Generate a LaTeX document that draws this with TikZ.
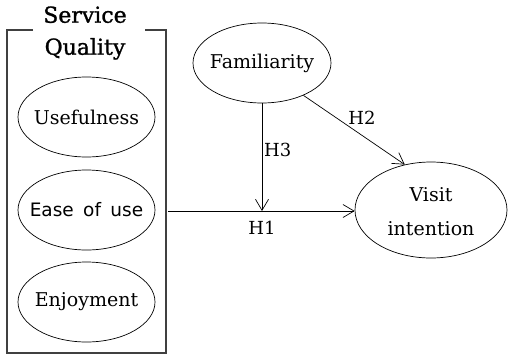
\documentclass[tikz,border=0pt]{standalone}
\usepackage{fontspec}
\setmainfont{DejaVu Serif}
\newfontfamily\easefont{DejaVu Sans}[WordSpace=1.6]
\newfontfamily\titlefont{DejaVu Serif}[FakeBold=1.2]
\usetikzlibrary{arrows.meta,shapes.geometric}
\begin{document}
\begin{tikzpicture}[x=1pt,y=-1pt,
  construct/.style={draw,ellipse,line width=0.7pt,inner sep=0pt,minimum width=137pt,minimum height=80pt},
  ctext/.style={inner sep=0pt,align=center,font=\fontsize{19}{34}\selectfont},
  path/.style={line width=0.7pt,-{Straight Barb[length=11pt,width=13pt,line width=0.7pt]}},
  hlabel/.style={font=\fontsize{18}{20}\selectfont,inner sep=0pt}]
\useasboundingbox (0,0) rectangle (508,362);
% group frame with a gap for the title
\draw[line width=1.1pt,draw=black!75] (33,30) -- (7,30) -- (7,353) -- (166,353) -- (166,30) -- (145,30);
\node[font=\titlefont\fontsize{22}{32}\selectfont,align=center,inner sep=0pt] (title) at (85,33) {Service\\Quality};
% constructs: fixed-size ellipses with their names set inside
\node[construct] (use) at (86.5,117) {};
\node[ctext] (usetext) at (use) {Usefulness};
\node[construct] (ease) at (86.5,210) {};
\node[ctext,font=\easefont\fontsize{18.5}{20}\selectfont] (easetext) at (ease) {Ease of use};
\node[construct] (enj) at (86.5,302) {};
\node[ctext] (enjtext) at (enj) {Enjoyment};
\node[construct,minimum width=138pt] (fam) at (262,63) {};
\node[ctext] (famtext) at (fam) {Familiarity};
\node[construct,minimum width=152pt,minimum height=96pt] (vis) at (431,210) {};
\node[ctext] (vistext) at (431,212) {Visit\\intention};
\coordinate (boxright) at (168,211);
\coordinate (meet) at (262,211);
% hypothesised paths
\draw[path] (boxright) -- (vis.west |- boxright);
\node[hlabel] (h1) at (262,228) {H1};
\draw[path] (fam.south) -- (meet);
\node[hlabel,anchor=west] (h3) at (264,150) {H3};
\draw[path] (fam.-38) -- (vis.120);
\node[hlabel] (h2) at (362,118) {H2};
\end{tikzpicture}
\end{document}
